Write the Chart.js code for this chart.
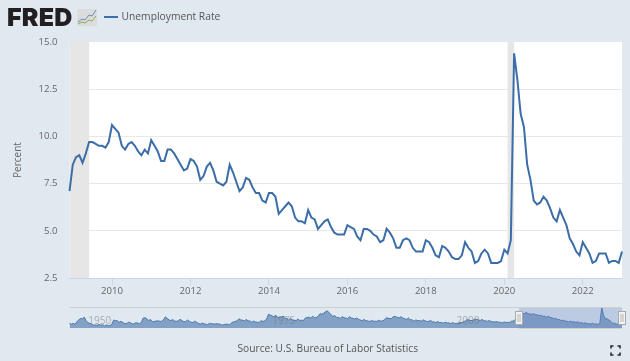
<!DOCTYPE html>
<html>
<head>
<meta charset="utf-8">
<script src="https://cdn.jsdelivr.net/npm/chart.js@4"></script>
<style>
html,body{margin:0;padding:0;background:#e1e9f0;overflow:hidden}
#wrap{position:relative;width:630px;height:361px;background:#e1e9f0;font-family:"Open Sans",sans-serif}
#main{position:absolute;left:0;top:0}
#nav{position:absolute;left:0;top:300px}
.t{position:absolute;white-space:nowrap}
</style>
</head>
<body>
<div id="wrap">
<canvas id="main" width="630" height="361" style="width:630px;height:361px"></canvas>
<canvas id="nav" width="630" height="36" style="width:630px;height:36px"></canvas>
<div class="t" style="left:7px;top:3px;font:900 25px/28px Inter,sans-serif;color:#231f20;letter-spacing:0.2px">FRED</div>
<svg class="t" style="left:77px;top:9px" width="20" height="17" viewBox="0 0 20 17">
<rect width="20" height="17" rx="1.5" fill="#dcdcdc"/>
<polyline points="1,13 5,10 8,11 12,6 15,7 19,1" fill="none" stroke="#6d8fb8" stroke-width="1"/>
<polyline points="1,15 5,13 8,14 12,11 15,12 19,7" fill="none" stroke="#8cab5a" stroke-width="1"/>
</svg>
<div class="t" style="left:104px;top:15.5px;width:14px;height:2px;background:#3f6fa8"></div>
<div class="t" style="left:121.5px;top:8px;font-size:10.3px;line-height:17px;color:#555">Unemployment Rate</div>
<div class="t" style="left:237.5px;top:340px;font-size:10.2px;line-height:17px;color:#555">Source: U.S. Bureau of Labor Statistics</div>
<svg class="t" style="left:610px;top:345px" width="11" height="11" viewBox="0 0 11 11">
<path d="M1 3.5V1H3.5M7.5 1H10V3.5M10 7.5V10H7.5M3.5 10H1V7.5" fill="none" stroke="#2b2b2b" stroke-width="1.6"/>
</svg>
</div>
<script>
// Monthly unemployment rate, Dec 2008 .. Jan 2023
const v2008 = [7.1];
const v2009 = [8.5,8.9,9.0,8.6,9.1,9.7,9.7,9.6,9.5,9.5,9.4,9.7];
const v2010 = [10.6,10.4,10.2,9.5,9.3,9.6,9.7,9.5,9.2,9.0,9.3,9.1];
const v2011 = [9.8,9.5,9.2,8.7,8.7,9.3,9.3,9.1,8.8,8.5,8.2,8.3];
const v2012 = [8.8,8.7,8.4,7.7,7.9,8.4,8.6,8.2,7.6,7.5,7.4,7.6];
const v2013 = [8.5,8.1,7.6,7.1,7.3,7.8,7.7,7.3,7.0,7.0,6.6,6.5];
const v2014 = [7.0,7.0,6.8,5.9,6.1,6.3,6.5,6.3,5.7,5.5,5.5,5.4];
const v2015 = [6.1,5.7,5.6,5.1,5.3,5.5,5.6,5.2,4.9,4.8,4.8,4.8];
const v2016 = [5.3,5.2,5.1,4.7,4.5,5.1,5.1,5.0,4.8,4.7,4.4,4.5];
const v2017 = [5.1,4.9,4.6,4.1,4.1,4.5,4.6,4.5,4.1,3.9,3.9,3.9];
const v2018 = [4.5,4.4,4.1,3.7,3.6,4.2,4.1,3.9,3.6,3.5,3.5,3.7];
const v2019 = [4.4,4.1,3.9,3.3,3.4,3.8,4.0,3.8,3.3,3.3,3.3,3.4];
const v2020 = [4.0,3.8,4.5,14.4,13.0,11.2,10.5,8.5,7.7,6.6,6.4,6.5];
const v2021 = [6.8,6.6,6.2,5.7,5.5,6.1,5.7,5.3,4.6,4.3,3.9,3.7];
const v2022 = [4.4,4.1,3.8,3.3,3.4,3.8,3.8,3.8,3.3,3.4,3.4,3.3];
const v2023 = [3.9];
const yearBlocks = [[2008,v2008,12],[2009,v2009,1],[2010,v2010,1],[2011,v2011,1],[2012,v2012,1],[2013,v2013,1],[2014,v2014,1],[2015,v2015,1],[2016,v2016,1],[2017,v2017,1],[2018,v2018,1],[2019,v2019,1],[2020,v2020,1],[2021,v2021,1],[2022,v2022,1],[2023,v2023,1]];
const monthLabels = [], rate = [];
yearBlocks.forEach(function(b){b[1].forEach(function(val,i){
  monthLabels.push(b[0]+'-'+String(b[2]+i).padStart(2,'0')); rate.push(val);
});});
const yTicks = [2.5,5,7.5,10,12.5,15];
const xTickYears = ['2010','2012','2014','2016','2018','2020','2022'];
const recessions = [['2008-12','2009-06'],['2020-02','2020-04']];

// Overview series, one value per quarter, 1948 .. 2023
const histRows = [
[1948,4.0,3.5,4.0,3.3],[1949,5.0,5.9,6.8,6.6],[1950,7.5,5.6,4.4,3.9],[1951,3.6,2.9,3.0,2.9],[1952,3.3,2.9,3.2,2.5],
[1953,3.1,2.6,2.6,3.5],[1954,5.9,5.6,5.4,4.6],[1955,5.2,4.4,3.9,3.9],[1956,4.6,4.4,3.7,3.6],[1957,4.4,4.1,3.8,4.5],
[1958,7.0,7.2,6.6,5.6],[1959,6.2,4.9,5.0,5.3],[1960,5.4,5.2,5.1,6.0],[1961,7.7,6.9,6.0,5.5],[1962,6.2,5.3,5.2,5.3],
[1963,6.3,5.6,5.0,4.9],[1964,5.9,5.2,4.6,4.4],[1965,5.2,4.6,4.0,3.5],[1966,4.2,3.7,3.5,3.2],[1967,4.0,3.7,3.7,3.5],
[1968,3.8,3.6,3.4,2.9],[1969,3.4,3.4,3.5,3.1],[1970,4.3,4.8,5.0,5.5],[1971,6.6,5.9,5.8,5.4],[1972,6.2,5.4,5.4,4.6],
[1973,5.3,4.8,4.6,4.5],[1974,5.6,5.0,5.5,6.3],[1975,9.2,8.8,8.2,7.8],[1976,8.7,7.3,7.5,7.4],[1977,8.2,6.9,6.8,5.9],
[1978,6.9,5.9,5.8,5.5],[1979,6.5,5.6,5.8,5.6],[1980,7.0,7.3,7.6,7.0],[1981,8.0,7.3,7.3,8.0],[1982,9.5,9.3,9.8,10.7],
[1983,11.2,10.0,9.1,7.9],[1984,8.5,7.4,7.4,6.8],[1985,7.9,7.2,7.0,6.7],[1986,7.8,7.1,6.8,6.5],[1987,7.1,6.2,5.9,5.5],
[1988,6.2,5.4,5.4,5.0],[1989,5.7,5.2,5.2,5.1],[1990,5.8,5.2,5.5,5.9],[1991,7.2,6.9,6.7,6.8],[1992,8.0,7.8,7.5,7.1],
[1993,7.8,7.0,6.7,6.2],[1994,7.1,6.1,6.0,5.2],[1995,5.9,5.6,5.6,5.2],[1996,6.0,5.4,5.1,5.0],[1997,5.7,4.9,4.8,4.4],
[1998,5.0,4.4,4.5,4.1],[1999,4.6,4.2,4.2,3.8],[2000,4.5,3.9,4.0,3.7],[2001,4.6,4.4,4.9,5.4],[2002,6.2,5.8,5.6,5.7],
[2003,6.4,6.3,6.0,5.6],[2004,6.2,5.5,5.4,5.2],[2005,5.6,5.0,4.9,4.7],[2006,5.0,4.6,4.6,4.2],[2007,4.8,4.4,4.6,4.5],
[2008,5.2,5.3,6.1,6.6],[2009,8.9,9.2,9.6,9.6],[2010,10.4,9.5,9.4,9.2],[2011,9.5,8.9,8.9,8.3],[2012,8.7,8.0,8.1,7.5],
[2013,8.1,7.3,7.2,6.7],[2014,6.9,6.1,6.2,5.5],[2015,5.8,5.3,5.2,4.8],[2016,5.2,4.8,4.9,4.5],[2017,4.9,4.2,4.4,3.9],
[2018,4.3,3.8,3.7,3.6],[2019,4.1,3.5,3.7,3.3],[2020,4.1,13.0,8.7,6.5],[2021,6.6,5.8,5.1,3.9],[2022,4.1,3.5,3.6,3.4],[2023,3.9]];
const histLabels = [], histRate = [];
histRows.forEach(function(r){r.slice(1).forEach(function(val,i){
  histLabels.push(r[0]+'-'+String(1+i*3).padStart(2,'0')); histRate.push(val);
});});
const navYears = ['1950','1975','2000'];
const navSelection = ['2009-01','2023-01'];

const FONT = '"Open Sans", sans-serif';
const isXTick = function(lbl){return lbl.endsWith('-01') && xTickYears.includes(lbl.slice(0,4));};

const plotDecor = {
  id:'plotDecor',
  beforeDraw:function(c){
    const a=c.chartArea,g=c.ctx;
    g.save();g.fillStyle='#ffffff';g.fillRect(a.left,a.top,a.right-a.left,a.bottom-a.top);g.restore();
  },
  beforeDatasetsDraw:function(c){
    const a=c.chartArea,g=c.ctx,x=c.scales.x;
    g.save();g.fillStyle='#e6e6e6';
    recessions.forEach(function(r){
      const x0=x.getPixelForValue(monthLabels.indexOf(r[0])),x1=x.getPixelForValue(monthLabels.indexOf(r[1]));
      g.fillRect(x0,a.top,x1-x0,a.bottom-a.top);
    });
    g.restore();
  }
};

new Chart(document.getElementById('main'),{
  type:'line',
  data:{labels:monthLabels,datasets:[{label:'Unemployment Rate',data:rate,borderColor:'#3b6ea8',borderWidth:2,pointRadius:0,tension:0,fill:false,clip:false}]},
  options:{
    responsive:false,animation:false,devicePixelRatio:1,
    layout:{padding:{top:42,left:0,right:8,bottom:57}},
    plugins:{legend:{display:false},tooltip:{enabled:false}},
    scales:{
      x:{type:'category',offset:false,
        border:{color:'#ccd6eb',width:1},
        grid:{drawOnChartArea:false,drawTicks:true,tickLength:7,tickColor:function(ctx){
          const l=monthLabels[ctx.index];return (l&&isXTick(l))?'#ccd6eb':'rgba(0,0,0,0)';}},
        ticks:{autoSkip:false,maxRotation:0,minRotation:0,padding:1,color:'#666',font:{family:FONT,size:9.6},
          callback:function(v,i){const l=monthLabels[i];return isXTick(l)?l.slice(0,4):'';}},
        afterFit:function(s){s.height=26;}
      },
      y:{min:2.5,max:15,
        border:{display:false},
        grid:{drawTicks:false,color:function(ctx){
          const t=ctx.tick&&ctx.tick.value;return (t===15||t===2.5)?'rgba(0,0,0,0)':'#e8e8e8';}},
        afterBuildTicks:function(s){s.ticks=yTicks.map(function(v){return {value:v};});},
        ticks:{padding:12,color:'#666',font:{family:FONT,size:9.6},callback:function(v){return Number(v).toFixed(1);}},
        title:{display:true,text:'Percent',color:'#666',font:{family:FONT,size:10},padding:{top:12,bottom:0}},
        afterFit:function(s){s.width=69.5;}
      }
    }
  },
  plugins:[plotDecor]
});

const navDecor = {
  id:'navDecor',
  afterDatasetsDraw:function(c){
    const a=c.chartArea,g=c.ctx,x=c.scales.x;
    const x0=x.getPixelForValue(histLabels.indexOf(navSelection[0])),x1=x.getPixelForValue(histLabels.indexOf(navSelection[1]));
    g.save();
    g.font='10px '+FONT;g.fillStyle='rgba(110,110,110,0.5)';g.textBaseline='middle';g.textAlign='left';
    navYears.forEach(function(y){
      g.fillText(y,x.getPixelForValue(histLabels.indexOf(y+'-01'))+4,a.top+14.5);
    });
    g.fillStyle='rgba(102,133,194,0.3)';g.fillRect(x0,a.top,x1-x0,a.bottom-a.top);
    g.strokeStyle='#cfcfcf';g.lineWidth=1;
    g.beginPath();g.moveTo(a.left,Math.round(a.top)+.5);g.lineTo(a.right,Math.round(a.top)+.5);g.stroke();
    g.beginPath();g.moveTo(x0,a.bottom+.5);g.lineTo(x1,a.bottom+.5);g.stroke();
    [x0,x1].forEach(function(px){
      const l=Math.round(px)-4;
      g.fillStyle='#f2f2f2';g.strokeStyle='#aaaaaa';
      g.fillRect(l+.5,11.5,7,13);g.strokeRect(l+.5,11.5,7,13);
      g.fillStyle='#b5b5b5';g.fillRect(l+2.5,14,1,8);g.fillRect(l+4.5,14,1,8);
    });
    g.restore();
  }
};

new Chart(document.getElementById('nav'),{
  type:'line',
  data:{labels:histLabels,datasets:[{label:'Overview',data:histRate,borderColor:'#4a78ad',borderWidth:1,pointRadius:0,tension:0,fill:'start',backgroundColor:'rgba(69,114,167,0.6)'}]},
  options:{
    responsive:false,animation:false,devicePixelRatio:1,
    layout:{padding:{top:7,left:69.5,right:8,bottom:8}},
    plugins:{legend:{display:false},tooltip:{enabled:false}},
    scales:{
      x:{type:'category',offset:false,
        border:{display:false},
        grid:{drawTicks:false,color:function(ctx){
          const l=histLabels[ctx.index];return (l&&l.endsWith('-01')&&navYears.includes(l.slice(0,4)))?'#e3e6ea':'rgba(0,0,0,0)';}},
        ticks:{display:false,autoSkip:false},
        afterFit:function(s){s.height=0;}
      },
      y:{display:false,min:1.3,max:13.4}
    }
  },
  plugins:[navDecor]
});
</script>
</body>
</html>
